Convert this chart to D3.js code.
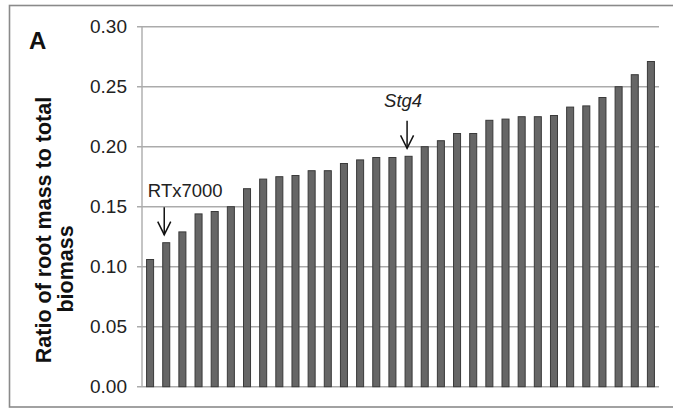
<!DOCTYPE html>
<html>
<head>
<meta charset="utf-8">
<script src="https://cdn.jsdelivr.net/npm/d3@7"></script>
<style>
  html, body { margin: 0; padding: 0; background: #fff; }
  svg { display: block; }
  text { font-family: "Liberation Sans", Arial, sans-serif; }
</style>
</head>
<body>
<svg id="chart" width="673" height="409"></svg>
<script>
// ---- data ----
const categories = d3.range(1, 33).map(i => "Line " + i);
const rootRatio = [0.106, 0.120, 0.129, 0.144, 0.146, 0.150, 0.165, 0.173,
                   0.175, 0.176, 0.180, 0.180, 0.186, 0.189, 0.191, 0.191,
                   0.192, 0.200, 0.205, 0.211, 0.211, 0.222, 0.223, 0.225,
                   0.225, 0.226, 0.233, 0.234, 0.241, 0.250, 0.260, 0.271];
const tickValues = [0, 0.05, 0.10, 0.15, 0.20, 0.25, 0.30];
const annotLabels = ["RTx7000", "Stg4"];
const annotIndex = [1, 16];
const annotItalic = [false, true];
const yTitleLines = ["Ratio of root mass to total", "biomass"];
const panelLabel = "A";

// ---- layout ----
const svg = d3.select("#chart");
const plot = { left: 142, right: 659, top: 26.7, bottom: 386.7 };

// frame
svg.append("rect")
  .attr("x", 9.5).attr("y", 5.5)
  .attr("width", 700).attr("height", 401.5)
  .attr("fill", "none").attr("stroke", "#8a8a8a").attr("stroke-width", 1.6);

const y = d3.scaleLinear().domain([0, 0.30]).range([plot.bottom, plot.top]);
const x = d3.scaleBand().domain(categories)
  .range([plot.left, plot.right])
  .paddingInner(0.565).paddingOuter(0.2825);

// gridlines + tick marks
svg.append("g").selectAll("line").data(tickValues).join("line")
  .attr("x1", plot.left - 5).attr("x2", plot.right)
  .attr("y1", d => y(d)).attr("y2", d => y(d))
  .attr("stroke", "#ababab").attr("stroke-width", 1.4);

// y axis line
svg.append("line")
  .attr("x1", plot.left).attr("x2", plot.left)
  .attr("y1", y(0.30)).attr("y2", y(0))
  .attr("stroke", "#ababab").attr("stroke-width", 1.4);

// tick labels via axis
const yAxis = d3.axisLeft(y).tickValues(tickValues).tickFormat(d3.format(".2f")).tickSize(0).tickPadding(0);
const ag = svg.append("g").attr("transform", `translate(${plot.left - 15},0)`).call(yAxis);
ag.select(".domain").remove();
ag.selectAll("text")
  .attr("font-size", 19)
  .attr("fill", "#222")
  .style("font-family", "'Liberation Sans', Arial, sans-serif");

// bars
svg.append("g").selectAll("rect").data(rootRatio).join("rect")
  .attr("x", (d, i) => x(categories[i]))
  .attr("y", d => y(d))
  .attr("width", x.bandwidth())
  .attr("height", d => y(0) - y(d))
  .attr("fill", "#666666")
  .attr("stroke", "#3a3a3a")
  .attr("stroke-width", 1);

// annotations
const arrowOffsets = [-2, -1.5];
const labelShift = [21, -4];
const labelGap = [10, 13.5];
annotIndex.forEach((idx, k) => {
  const cx = x(categories[idx]) + x.bandwidth() / 2 + arrowOffsets[k];
  const tip = y(rootRatio[idx]) - 8;
  const top = tip - 27.5;
  const g = svg.append("g");
  g.append("line").attr("x1", cx).attr("x2", cx).attr("y1", top).attr("y2", tip)
    .attr("stroke", "#111").attr("stroke-width", 1.5);
  g.append("path")
    .attr("d", `M${cx - 6.5},${tip - 13} L${cx},${tip} L${cx + 6.5},${tip - 13}`)
    .attr("fill", "none").attr("stroke", "#111").attr("stroke-width", 1.5);
  g.append("text")
    .attr("x", cx + labelShift[k]).attr("y", top - labelGap[k])
    .attr("text-anchor", "middle")
    .attr("font-size", 18.5)
    .attr("font-style", annotItalic[k] ? "italic" : "normal")
    .attr("fill", "#222")
    .text(annotLabels[k]);
});

// y title
const titleX = [51, 73];
const titleCY = [230, 269];
yTitleLines.forEach((t, k) => {
  svg.append("text")
    .attr("transform", `translate(${titleX[k]},${titleCY[k]}) rotate(-90)`)
    .attr("text-anchor", "middle")
    .attr("font-size", 21.5)
    .attr("font-weight", "bold")
    .attr("fill", "#111")
    .text(t);
});

// panel label
svg.append("text")
  .attr("x", 29).attr("y", 49)
  .attr("font-size", 24)
  .attr("font-weight", "bold")
  .attr("fill", "#111")
  .text(panelLabel);
</script>
</body>
</html>
